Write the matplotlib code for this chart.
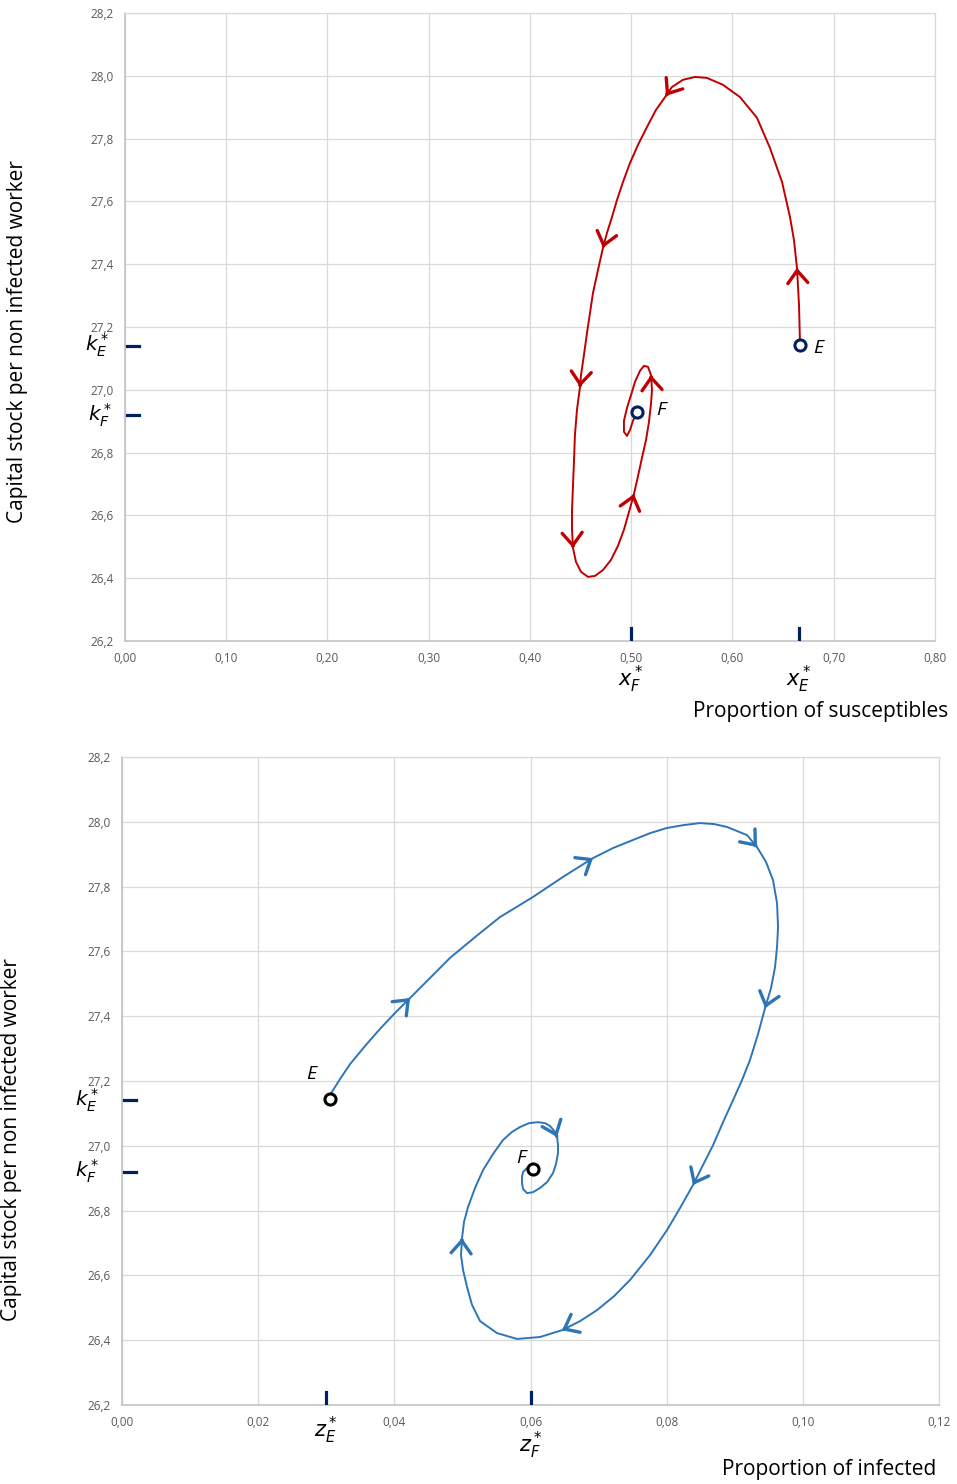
import matplotlib
matplotlib.use("Agg")
import matplotlib.pyplot as plt
from matplotlib.ticker import MultipleLocator, FuncFormatter

# top panel: capital stock vs proportion of susceptibles
SUS_X = [0.6667, 0.6657, 0.6637, 0.6607, 0.6568, 0.6489, 0.6370, 0.6242, 0.6074, 0.5906,
         0.5748, 0.5630, 0.5511, 0.5402, 0.5343, 0.5244, 0.5156, 0.5067, 0.4988, 0.4919,
         0.4859, 0.4810, 0.4760, 0.4721, 0.4672, 0.4622, 0.4593, 0.4563, 0.4533, 0.4504,
         0.4494, 0.4464, 0.4444, 0.4435, 0.4425, 0.4415, 0.4415, 0.4425, 0.4454, 0.4504,
         0.4573, 0.4642, 0.4721, 0.4800, 0.4869, 0.4928, 0.4978, 0.5027, 0.5067, 0.5106,
         0.5146, 0.5175, 0.5195, 0.5205, 0.5195, 0.5165, 0.5126, 0.5086, 0.5037, 0.4998,
         0.4958, 0.4928, 0.4928, 0.4958, 0.4988, 0.5017, 0.5057]
SUS_K = [27.143, 27.270, 27.388, 27.477, 27.550, 27.662, 27.770, 27.866, 27.932, 27.971,
         27.993, 27.996, 27.987, 27.964, 27.936, 27.891, 27.837, 27.780, 27.722, 27.662,
         27.604, 27.550, 27.499, 27.452, 27.382, 27.308, 27.245, 27.181, 27.111, 27.047,
         27.009, 26.936, 26.856, 26.776, 26.697, 26.617, 26.554, 26.496, 26.452, 26.420,
         26.404, 26.407, 26.426, 26.458, 26.503, 26.554, 26.611, 26.668, 26.725, 26.783,
         26.840, 26.897, 26.955, 26.999, 27.047, 27.073, 27.076, 27.060, 27.025, 26.983,
         26.942, 26.901, 26.866, 26.853, 26.872, 26.901, 26.929]
SUS_ARROWS = [2, 14, 23, 30, 37, 47, 54]

# bottom panel: capital stock vs proportion of infected
INF_Z = [0.03055, 0.03202, 0.03349, 0.03569, 0.03790, 0.04010, 0.04230, 0.04524, 0.04818, 0.05185,
         0.05552, 0.06037, 0.06478, 0.06918, 0.07212, 0.07506, 0.07756, 0.08005, 0.08255, 0.08490,
         0.08696, 0.08887, 0.09180, 0.09327, 0.09459, 0.09562, 0.09621, 0.09636, 0.09621, 0.09592,
         0.09533, 0.09445, 0.09342, 0.09224, 0.09107, 0.08975, 0.08828, 0.08681, 0.08534, 0.08387,
         0.08196, 0.08005, 0.07756, 0.07462, 0.07227, 0.06977, 0.06727, 0.06463, 0.06140, 0.05802,
         0.05508, 0.05259, 0.05141, 0.05068, 0.05009, 0.04979, 0.04994, 0.05023, 0.05082, 0.05185,
         0.05303, 0.05450, 0.05596, 0.05729, 0.05846, 0.05978, 0.06110, 0.06213, 0.06287, 0.06360,
         0.06390, 0.06404, 0.06404, 0.06375, 0.06331, 0.06243, 0.06140, 0.06037, 0.05949, 0.05890,
         0.05875, 0.05875, 0.05890, 0.05949, 0.06022]
INF_K = [27.157, 27.206, 27.252, 27.308, 27.361, 27.410, 27.456, 27.518, 27.580, 27.644,
         27.706, 27.768, 27.830, 27.888, 27.919, 27.944, 27.965, 27.981, 27.990, 27.996,
         27.993, 27.984, 27.959, 27.922, 27.876, 27.820, 27.749, 27.675, 27.614, 27.552,
         27.487, 27.425, 27.345, 27.265, 27.203, 27.141, 27.073, 27.002, 26.941, 26.879,
         26.808, 26.740, 26.663, 26.586, 26.536, 26.493, 26.459, 26.431, 26.410, 26.404,
         26.422, 26.459, 26.509, 26.564, 26.617, 26.663, 26.715, 26.765, 26.811, 26.870,
         26.925, 26.975, 27.018, 27.043, 27.058, 27.070, 27.073, 27.070, 27.061, 27.043,
         27.027, 27.002, 26.978, 26.944, 26.916, 26.888, 26.870, 26.857, 26.854, 26.867,
         26.885, 26.904, 26.919, 26.932, 26.935]
INF_ARROWS = [6, 13, 23, 31, 39, 47, 56, 70]

# equilibria E and F
EQ_NAMES = ["E", "F"]
EQ_X = [0.6667, 0.5057]
EQ_Z = [0.0306, 0.0604]
EQ_K = [27.143, 26.929]
K_STAR = [27.14, 26.92]
X_STAR = [0.666, 0.500]
Z_STAR = [0.030, 0.060]

RED = "#C00000"
BLUE = "#2E75B6"
NAVY = "#002060"
GRID = "#d9d9d9"

plt.rcParams["font.family"] = ["Open Sans", "DejaVu Sans"]
plt.rcParams["mathtext.fontset"] = "dejavusans"

fig = plt.figure(figsize=(9.57, 14.84), dpi=100)
ax1 = fig.add_axes([0.1306, 0.5681, 0.8464, 0.4232])
ax2 = fig.add_axes([0.1275, 0.0532, 0.8537, 0.4367])


def style_axes(ax, xmax, xstep):
    ax.set_xlim(0, xmax)
    ax.set_ylim(26.2, 28.2)
    ax.xaxis.set_major_locator(MultipleLocator(xstep))
    ax.yaxis.set_major_locator(MultipleLocator(0.2))
    ax.xaxis.set_major_formatter(FuncFormatter(lambda v, p: f"{v:.2f}".replace(".", ",")))
    ax.yaxis.set_major_formatter(FuncFormatter(lambda v, p: f"{v:.1f}".replace(".", ",")))
    ax.grid(True, color=GRID, lw=0.9)
    ax.set_axisbelow(True)
    ax.tick_params(length=0, labelsize=8.5, labelcolor="#595959", pad=8)
    for side in ["top", "right"]:
        ax.spines[side].set_color(GRID)
        ax.spines[side].set_linewidth(0.9)
    for side in ["left", "bottom"]:
        ax.spines[side].set_color("#bfbfbf")
        ax.spines[side].set_linewidth(1.1)


def draw_path(ax, xs, ys, arrows, color):
    ax.plot(xs, ys, color=color, lw=1.4, zorder=3, solid_joinstyle="round")
    for i in arrows:
        # short tail along the last segment so only the chevron shows
        tail = (xs[i] - 0.15 * (xs[i] - xs[i - 1]), ys[i] - 0.15 * (ys[i] - ys[i - 1]))
        ax.annotate("", xy=(xs[i], ys[i]), xytext=tail,
                    arrowprops=dict(arrowstyle="->,head_length=0.45,head_width=0.36",
                                    color=color, lw=2.4, shrinkA=0, shrinkB=0,
                                    mutation_scale=20),
                    zorder=4)


def star_marks(ax, xvals, kvals, letter, ypos, kx):
    xt = ax.get_xaxis_transform()
    yt = ax.get_yaxis_transform()
    for xv, name, yp in zip(xvals, EQ_NAMES, ypos):
        ax.plot([xv, xv], [0.002, 0.02], color=NAVY, lw=2.3, transform=xt, zorder=5)
        ax.text(xv, yp, rf"${letter}^*_{name}$", transform=xt, ha="center",
                va="center", fontsize=15, clip_on=False)
    for kv, name, kxp in zip(kvals, EQ_NAMES, kx):
        ax.plot([0.003, 0.017], [kv, kv], color=NAVY, lw=2.3, transform=yt, zorder=5)
        ax.text(kxp, kv, rf"$k^*_{name}$", transform=yt, ha="center", va="center",
                fontsize=14.5, clip_on=False)


# top panel
style_axes(ax1, 0.8, 0.1)
draw_path(ax1, SUS_X, SUS_K, SUS_ARROWS, RED)
ax1.plot(EQ_X, EQ_K, "o", ms=8, mfc="white", mec=NAVY, mew=2.2, zorder=6)
ax1.text(EQ_X[0] + 0.013, EQ_K[0] - 0.01, "E", fontsize=14, style="italic", va="center")
ax1.text(EQ_X[1] + 0.019, EQ_K[1] + 0.006, "F", fontsize=14, style="italic", va="center")
star_marks(ax1, X_STAR, K_STAR, "x", [-0.062, -0.062], [-0.034, -0.031])

# bottom panel
style_axes(ax2, 0.12, 0.02)
draw_path(ax2, INF_Z, INF_K, INF_ARROWS, BLUE)
ax2.plot(EQ_Z, EQ_K, "o", ms=8, mfc="white", mec="black", mew=2.2, zorder=6)
ax2.text(EQ_Z[0] - 0.0035, EQ_K[0] + 0.08, "E", fontsize=14, style="italic", va="center")
ax2.text(EQ_Z[1] - 0.0025, EQ_K[1] + 0.034, "F", fontsize=14, style="italic", va="center")
star_marks(ax2, Z_STAR, K_STAR, "z", [-0.039, -0.062], [-0.042, -0.042])

# axis titles
fig.text(948 / 957, 1 - 711 / 1484, "Proportion of susceptibles", ha="right", va="center", fontsize=15)
fig.text(936 / 957, 1 - 1469 / 1484, "Proportion of infected", ha="right", va="center", fontsize=15)
fig.text(18 / 957, 1 - 342 / 1484, "Capital stock per non infected worker", rotation=90,
         ha="center", va="center", fontsize=15)
fig.text(12 / 957, 1 - 1140 / 1484, "Capital stock per non infected worker", rotation=90,
         ha="center", va="center", fontsize=15)

fig.savefig("out.png", dpi=100, facecolor="white")
